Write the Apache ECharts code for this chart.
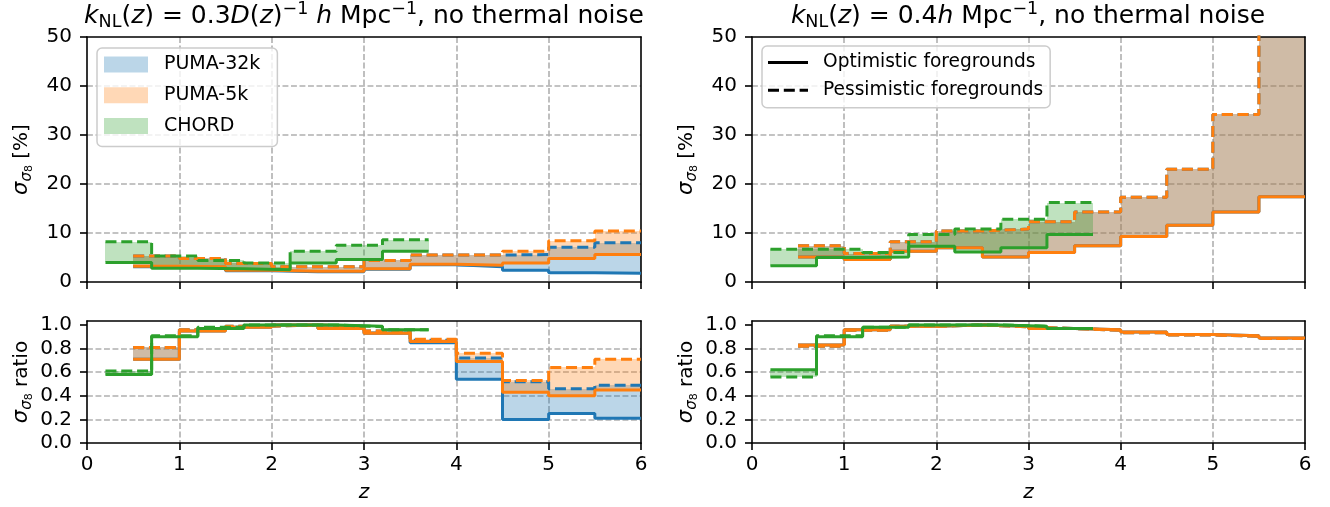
<!DOCTYPE html>
<html>
<head>
<meta charset="utf-8">
<script src="https://cdn.jsdelivr.net/npm/echarts@6/dist/echarts.min.js"></script>
<style>
  html, body { margin: 0; padding: 0; background: #fff; }
  #chart { width: 1330px; height: 507px; }
</style>
</head>
<body>
<div id="chart"></div>
<script>
// bin edges in z
const pumaEdges = [0.5, 1.0, 1.5, 2.0, 2.5, 3.0, 3.5, 4.0, 4.5, 5.0, 5.5, 6.0];
const chordEdges = [0.2, 0.7, 1.2, 1.7, 2.2, 2.7, 3.2, 3.7];

// tick labels
const zTicks = [0, 1, 2, 3, 4, 5, 6];
const sigmaTicks = [0, 10, 20, 30, 40, 50];
const ratioTicks = [0, 0.2, 0.4, 0.6, 0.8, 1.0];

// left column: kNL = 0.3 D(z)^-1 h/Mpc  -- sigma(sigma8) in %
const puma32kOptA = [3.1, 3.0, 2.3, 2.1, 2.1, 2.6, 3.5, 3.1, 2.4, 1.9, 1.8];
const puma32kPessA = [5.3, 4.8, 3.8, 3.1, 3.1, 4.4, 5.5, 5.5, 5.6, 7.1, 8.0];
const puma5kOptA = [3.2, 3.1, 2.4, 2.2, 2.2, 2.7, 3.6, 3.4, 3.9, 4.8, 5.6];
const puma5kPessA = [5.3, 4.8, 3.8, 3.1, 3.1, 4.4, 5.5, 5.5, 6.3, 8.4, 10.4];
const chordOptA = [4.0, 2.8, 2.7, 2.5, 3.9, 4.6, 6.3];
const chordPessA = [8.2, 5.3, 4.4, 3.9, 6.3, 7.5, 8.6];

// left column ratios
const puma32kOptRA = [0.71, 0.95, 0.98, 1.0, 0.97, 0.93, 0.85, 0.54, 0.20, 0.25, 0.21];
const puma32kPessRA = [0.81, 0.96, 0.99, 1.0, 0.99, 0.95, 0.87, 0.72, 0.52, 0.46, 0.49];
const puma5kOptRA = [0.71, 0.95, 0.98, 1.0, 0.97, 0.93, 0.86, 0.69, 0.43, 0.40, 0.45];
const puma5kPessRA = [0.81, 0.96, 0.99, 1.0, 0.99, 0.95, 0.88, 0.76, 0.53, 0.64, 0.71];
const chordOptRA = [0.58, 0.90, 0.97, 1.0, 1.0, 0.99, 0.96];
const chordPessRA = [0.61, 0.91, 0.98, 1.0, 1.0, 0.985, 0.96];

// right column: kNL = 0.4 h/Mpc
const puma32kOptB = [5.1, 4.6, 6.3, 7.0, 5.1, 6.0, 7.4, 9.3, 11.6, 14.3, 17.4];
const puma32kPessB = [7.4, 5.8, 8.2, 10.4, 10.8, 12.3, 14.3, 17.3, 23.0, 34.2, 55.0];
const puma5kOptB = [5.1, 4.6, 6.3, 7.0, 5.1, 6.0, 7.4, 9.3, 11.6, 14.3, 17.4];
const puma5kPessB = [7.4, 5.8, 8.2, 10.4, 10.8, 12.3, 14.3, 17.3, 23.0, 34.2, 55.0];
const chordOptB = [3.3, 5.0, 5.1, 7.3, 6.1, 7.0, 9.7];
const chordPessB = [6.7, 6.7, 6.0, 9.7, 10.8, 12.8, 16.2];

// right column ratios
const puma32kOptRB = [0.83, 0.96, 0.99, 1.0, 0.99, 0.97, 0.96, 0.94, 0.92, 0.91, 0.89];
const puma32kPessRB = [0.82, 0.955, 0.99, 1.0, 0.985, 0.97, 0.955, 0.935, 0.915, 0.905, 0.885];
const puma5kOptRB = [0.83, 0.96, 0.99, 1.0, 0.99, 0.97, 0.96, 0.94, 0.92, 0.91, 0.89];
const puma5kPessRB = [0.82, 0.955, 0.99, 1.0, 0.985, 0.97, 0.955, 0.935, 0.915, 0.905, 0.885];
const chordOptRB = [0.62, 0.90, 0.98, 1.0, 1.0, 0.99, 0.97];
const chordPessRB = [0.56, 0.91, 0.98, 1.0, 1.0, 0.99, 0.97];

const FONT = "DejaVu Sans";
const surveys = [
  { name: "PUMA-32k", edges: pumaEdges, color: "#1f77b4", fill: "rgba(31,119,180,0.3)" },
  { name: "PUMA-5k", edges: pumaEdges, color: "#ff7f0e", fill: "rgba(255,127,14,0.3)" },
  { name: "CHORD", edges: chordEdges, color: "#2ca02c", fill: "rgba(44,160,44,0.3)" },
];
// per panel: [opt, pess] for each survey
const panels = [
  [[puma32kOptA, puma32kPessA], [puma5kOptA, puma5kPessA], [chordOptA, chordPessA]],
  [[puma32kOptB, puma32kPessB], [puma5kOptB, puma5kPessB], [chordOptB, chordPessB]],
  [[puma32kOptRA, puma32kPessRA], [puma5kOptRA, puma5kPessRA], [chordOptRA, chordPessRA]],
  [[puma32kOptRB, puma32kPessRB], [puma5kOptRB, puma5kPessRB], [chordOptRB, chordPessRB]],
];

function stepPoints(edges, vals) {
  const pts = vals.map((v, i) => [edges[i], v]);
  pts.push([edges[vals.length], vals[vals.length - 1]]);
  return pts;
}

function lineSeries(name, g, edges, vals, color, dashed) {
  return {
    name: name, type: "line", xAxisIndex: g, yAxisIndex: g,
    step: "end", symbol: "none", showSymbol: false, silent: true, clip: true,
    data: stepPoints(edges, vals),
    lineStyle: { color: color, width: 3, type: dashed ? [11, 4.8] : "solid" },
    itemStyle: { color: color },
  };
}

function fillSeries(name, g, edges, opt, pess, fill) {
  return {
    name: name, type: "custom", xAxisIndex: g, yAxisIndex: g, clip: true, silent: true,
    itemStyle: { color: fill },
    encode: { x: [0, 1], y: [2, 3] },
    data: opt.map((v, i) => [edges[i], edges[i + 1], v, pess[i]]),
    renderItem: function (params, api) {
      const lo = Math.min(api.value(2), api.value(3));
      const hi = Math.max(api.value(2), api.value(3));
      const p0 = api.coord([api.value(0), hi]);
      const p1 = api.coord([api.value(1), lo]);
      const l = Math.round(p0[0]), r = Math.round(p1[0]);
      const t = Math.round(p0[1]), b = Math.round(p1[1]);
      return { type: "rect", shape: { x: l, y: t, width: r - l, height: b - t }, style: { fill: fill } };
    },
  };
}

const series = [];
panels.forEach((sets, g) => {
  sets.forEach((pair, k) => {
    const s = surveys[k];
    series.push(lineSeries(s.name + " opt", g, s.edges, pair[0], s.color, false));
    series.push(lineSeries(s.name + " pess", g, s.edges, pair[1], s.color, true));
    series.push(fillSeries(s.name, g, s.edges, pair[0], pair[1], s.fill));
  });
});
// entries for the line-style legend
series.push({ name: "Optimistic foregrounds", type: "line", xAxisIndex: 1, yAxisIndex: 1, data: [], symbol: "none",
  lineStyle: { color: "#000", width: 3 }, itemStyle: { color: "#000" } });
series.push({ name: "Pessimistic foregrounds", type: "line", xAxisIndex: 1, yAxisIndex: 1, data: [], symbol: "none",
  lineStyle: { color: "#000", width: 3, type: [11, 4.8] }, itemStyle: { color: "#000" } });

const grids = [
  { left: 87, top: 37, width: 554, height: 245 },
  { left: 752, top: 37, width: 553, height: 245 },
  { left: 87, top: 321, width: 554, height: 122 },
  { left: 752, top: 321, width: 553, height: 122 },
];

const axisLineStyle = { color: "#000", width: 1.6 };
const gridLineStyle = { color: "#b0b0b0", width: 1.6, type: [5.9, 2.6] };
const nameRich = {
  g: { fontFamily: FONT, fontSize: 21, lineHeight: 26, fontStyle: "italic", color: "#000" },
  a: { fontFamily: FONT, fontSize: 20, lineHeight: 26, color: "#000" },
  b: { fontFamily: FONT, fontSize: 15, lineHeight: 15, fontStyle: "italic", verticalAlign: "bottom", color: "#000" },
  c: { fontFamily: FONT, fontSize: 11, lineHeight: 8, verticalAlign: "bottom", color: "#000" },
};

const xAxes = [], yAxes = [];
grids.forEach((gr, g) => {
  const bottom = g >= 2;
  xAxes.push({
    gridIndex: g, type: "value", min: 0, max: 6, interval: 1,
    name: bottom ? "z" : "", nameLocation: "middle", nameGap: 40,
    nameTextStyle: { fontFamily: FONT, fontSize: 20, fontStyle: "italic", color: "#000" },
    axisLine: { onZero: false, lineStyle: axisLineStyle },
    axisTick: { show: true, length: 7, customValues: zTicks, lineStyle: axisLineStyle },
    axisLabel: { show: bottom, customValues: zTicks, margin: 12, fontFamily: FONT, fontSize: 20, color: "#000" },
    splitLine: { show: true, showMinLine: false, showMaxLine: false, lineStyle: gridLineStyle },
  });
  const ticks = bottom ? ratioTicks : sigmaTicks;
  yAxes.push({
    gridIndex: g, type: "value", position: "left", min: 0, max: bottom ? 1.034 : 50, interval: bottom ? 0.2 : 10,
    name: bottom ? "{g|σ}{b|σ}{c|8}{a| ratio}" : "{g|σ}{b|σ}{c|8}{a| [%]}",
    nameLocation: "middle", nameGap: 52,
    nameTextStyle: { fontFamily: FONT, fontSize: 20, color: "#000", rich: nameRich },
    axisLine: { onZero: false, lineStyle: axisLineStyle },
    axisTick: { show: true, length: 7, customValues: ticks, lineStyle: axisLineStyle },
    axisLabel: { customValues: ticks, margin: 15, fontFamily: FONT, fontSize: 20, color: "#000",
      formatter: bottom ? (v) => v.toFixed(1) : (v) => String(v) },
    splitLine: { show: true, showMinLine: false, showMaxLine: false, lineStyle: gridLineStyle },
  });
});
// frame: top and right spines
grids.forEach((gr, g) => {
  const bottom = g >= 2;
  xAxes.push({ gridIndex: g, type: "value", position: "top", min: 0, max: 6, z: 3,
    axisLine: { onZero: false, lineStyle: axisLineStyle }, axisTick: { show: false },
    axisLabel: { show: false }, splitLine: { show: false } });
  yAxes.push({ gridIndex: g, type: "value", position: "right", min: 0, max: bottom ? 1.034 : 50, z: 3,
    axisLine: { onZero: false, lineStyle: axisLineStyle }, axisTick: { show: false },
    axisLabel: { show: false }, splitLine: { show: false } });
});

const titleRich = {
  t: { fontFamily: FONT, fontSize: 25, lineHeight: 31, color: "#000" },
  i: { fontFamily: FONT, fontSize: 25, lineHeight: 31, fontStyle: "italic", color: "#000" },
  sub: { fontFamily: FONT, fontSize: 17.5, lineHeight: 17.5, verticalAlign: "bottom", color: "#000" },
  sup: { fontFamily: FONT, fontSize: 17.5, lineHeight: 17.5, verticalAlign: "top", color: "#000" },
};

// legend handles drawn as black bars (solid / dashed)
const solidIcon = "path://M0,0h40v3h-40z";
const dashedIcon = "path://M0,0h11v3h-11zM15.8,0h11v3h-11zM31.6,0h8.4v3h-8.4z";

const chart = echarts.init(document.getElementById("chart"));
chart.setOption({
  animation: false,
  backgroundColor: "#fff",
  grid: grids,
  xAxis: xAxes,
  yAxis: yAxes,
  legend: [
    {
      data: ["PUMA-32k", "PUMA-5k", "CHORD"], orient: "vertical", left: 97, top: 48,
      icon: "rect", itemWidth: 44, itemHeight: 16, itemGap: 11.7, selectedMode: false,
      padding: [7, 17, 11, 7], backgroundColor: "rgba(255,255,255,0.8)",
      borderColor: "#cccccc", borderWidth: 1.5, borderRadius: 5,
      textStyle: { fontFamily: FONT, fontSize: 19, color: "#000", padding: [0, 0, 0, 11] },
    },
    {
      data: [
        { name: "Optimistic foregrounds", icon: solidIcon },
        { name: "Pessimistic foregrounds", icon: dashedIcon },
      ],
      orient: "vertical", left: 762, top: 46,
      itemWidth: 40, itemHeight: 3, itemGap: 8.7, selectedMode: false,
      padding: [7, 7, 8, 6], backgroundColor: "rgba(255,255,255,0.8)",
      borderColor: "#cccccc", borderWidth: 1.5, borderRadius: 5,
      itemStyle: { color: "#000" },
      textStyle: { fontFamily: FONT, fontSize: 18.6, color: "#000", padding: [0, 0, 0, 10] },
    },
  ],
  graphic: [
    { type: "text", x: 364, y: 16, z: 10, style: { align: "center", verticalAlign: "middle", rich: titleRich,
      text: "{i|k}{sub|NL}{t|(}{i|z}{t|) = 0.3}{i|D}{t|(}{i|z}{t|)}{sup|−1}{t| }{i|h}{t| Mpc}{sup|−1}{t|, no thermal noise}" } },
    { type: "text", x: 1028, y: 16, z: 10, style: { align: "center", verticalAlign: "middle", rich: titleRich,
      text: "{i|k}{sub|NL}{t|(}{i|z}{t|) = 0.4}{i|h}{t| Mpc}{sup|−1}{t|, no thermal noise}" } },
  ],
  series: series,
});
</script>
</body>
</html>
